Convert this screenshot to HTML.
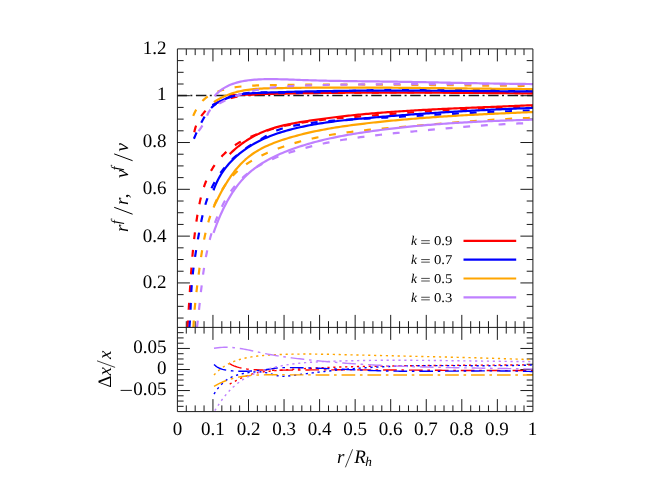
<!DOCTYPE html>
<html><head><meta charset="utf-8"><title>plot</title>
<style>html,body{margin:0;padding:0;background:#fff}body{width:651px;height:487px;overflow:hidden;font-family:"Liberation Serif",serif}svg{display:block}</style>
</head><body>
<svg width="651" height="487" viewBox="0 0 651 487">
<rect width="651" height="487" fill="#fff"/>
<defs><clipPath id="ct"><rect x="177.4" y="48.9" width="355.5" height="278.5"/></clipPath><clipPath id="cb"><rect x="177.4" y="327.4" width="355.5" height="84.20000000000005"/></clipPath></defs>
<path d="M186.29,48.9 v6.2 M186.29,321.2 v12.4 M186.29,411.6 v-6.2 M195.18,48.9 v6.2 M195.18,321.2 v12.4 M195.18,411.6 v-6.2 M204.06,48.9 v6.2 M204.06,321.2 v12.4 M204.06,411.6 v-6.2 M212.95,48.9 v12.5 M212.95,314.9 v25.0 M212.95,411.6 v-12.5 M221.84,48.9 v6.2 M221.84,321.2 v12.4 M221.84,411.6 v-6.2 M230.73,48.9 v6.2 M230.73,321.2 v12.4 M230.73,411.6 v-6.2 M239.61,48.9 v6.2 M239.61,321.2 v12.4 M239.61,411.6 v-6.2 M248.50,48.9 v12.5 M248.50,314.9 v25.0 M248.50,411.6 v-12.5 M257.39,48.9 v6.2 M257.39,321.2 v12.4 M257.39,411.6 v-6.2 M266.27,48.9 v6.2 M266.27,321.2 v12.4 M266.27,411.6 v-6.2 M275.16,48.9 v6.2 M275.16,321.2 v12.4 M275.16,411.6 v-6.2 M284.05,48.9 v12.5 M284.05,314.9 v25.0 M284.05,411.6 v-12.5 M292.94,48.9 v6.2 M292.94,321.2 v12.4 M292.94,411.6 v-6.2 M301.83,48.9 v6.2 M301.83,321.2 v12.4 M301.83,411.6 v-6.2 M310.71,48.9 v6.2 M310.71,321.2 v12.4 M310.71,411.6 v-6.2 M319.60,48.9 v12.5 M319.60,314.9 v25.0 M319.60,411.6 v-12.5 M328.49,48.9 v6.2 M328.49,321.2 v12.4 M328.49,411.6 v-6.2 M337.38,48.9 v6.2 M337.38,321.2 v12.4 M337.38,411.6 v-6.2 M346.26,48.9 v6.2 M346.26,321.2 v12.4 M346.26,411.6 v-6.2 M355.15,48.9 v12.5 M355.15,314.9 v25.0 M355.15,411.6 v-12.5 M364.04,48.9 v6.2 M364.04,321.2 v12.4 M364.04,411.6 v-6.2 M372.93,48.9 v6.2 M372.93,321.2 v12.4 M372.93,411.6 v-6.2 M381.81,48.9 v6.2 M381.81,321.2 v12.4 M381.81,411.6 v-6.2 M390.70,48.9 v12.5 M390.70,314.9 v25.0 M390.70,411.6 v-12.5 M399.59,48.9 v6.2 M399.59,321.2 v12.4 M399.59,411.6 v-6.2 M408.48,48.9 v6.2 M408.48,321.2 v12.4 M408.48,411.6 v-6.2 M417.36,48.9 v6.2 M417.36,321.2 v12.4 M417.36,411.6 v-6.2 M426.25,48.9 v12.5 M426.25,314.9 v25.0 M426.25,411.6 v-12.5 M435.14,48.9 v6.2 M435.14,321.2 v12.4 M435.14,411.6 v-6.2 M444.02,48.9 v6.2 M444.02,321.2 v12.4 M444.02,411.6 v-6.2 M452.91,48.9 v6.2 M452.91,321.2 v12.4 M452.91,411.6 v-6.2 M461.80,48.9 v12.5 M461.80,314.9 v25.0 M461.80,411.6 v-12.5 M470.69,48.9 v6.2 M470.69,321.2 v12.4 M470.69,411.6 v-6.2 M479.58,48.9 v6.2 M479.58,321.2 v12.4 M479.58,411.6 v-6.2 M488.46,48.9 v6.2 M488.46,321.2 v12.4 M488.46,411.6 v-6.2 M497.35,48.9 v12.5 M497.35,314.9 v25.0 M497.35,411.6 v-12.5 M506.24,48.9 v6.2 M506.24,321.2 v12.4 M506.24,411.6 v-6.2 M515.12,48.9 v6.2 M515.12,321.2 v12.4 M515.12,411.6 v-6.2 M524.01,48.9 v6.2 M524.01,321.2 v12.4 M524.01,411.6 v-6.2 M177.4,318.04 h6.2 M532.9,318.04 h-6.2 M177.4,306.34 h6.2 M532.9,306.34 h-6.2 M177.4,294.64 h6.2 M532.9,294.64 h-6.2 M177.4,282.93 h12.5 M532.9,282.93 h-12.5 M177.4,271.23 h6.2 M532.9,271.23 h-6.2 M177.4,259.53 h6.2 M532.9,259.53 h-6.2 M177.4,247.83 h6.2 M532.9,247.83 h-6.2 M177.4,236.13 h12.5 M532.9,236.13 h-12.5 M177.4,224.43 h6.2 M532.9,224.43 h-6.2 M177.4,212.73 h6.2 M532.9,212.73 h-6.2 M177.4,201.02 h6.2 M532.9,201.02 h-6.2 M177.4,189.32 h12.5 M532.9,189.32 h-12.5 M177.4,177.62 h6.2 M532.9,177.62 h-6.2 M177.4,165.92 h6.2 M532.9,165.92 h-6.2 M177.4,154.22 h6.2 M532.9,154.22 h-6.2 M177.4,142.52 h12.5 M532.9,142.52 h-12.5 M177.4,130.81 h6.2 M532.9,130.81 h-6.2 M177.4,119.11 h6.2 M532.9,119.11 h-6.2 M177.4,107.41 h6.2 M532.9,107.41 h-6.2 M177.4,95.71 h12.5 M532.9,95.71 h-12.5 M177.4,84.01 h6.2 M532.9,84.01 h-6.2 M177.4,72.31 h6.2 M532.9,72.31 h-6.2 M177.4,60.61 h6.2 M532.9,60.61 h-6.2 M177.4,406.34 h6.2 M532.9,406.34 h-6.2 M177.4,401.07 h6.2 M532.9,401.07 h-6.2 M177.4,395.81 h6.2 M532.9,395.81 h-6.2 M177.4,390.55 h12.5 M532.9,390.55 h-12.5 M177.4,385.29 h6.2 M532.9,385.29 h-6.2 M177.4,380.02 h6.2 M532.9,380.02 h-6.2 M177.4,374.76 h6.2 M532.9,374.76 h-6.2 M177.4,369.50 h12.5 M532.9,369.50 h-12.5 M177.4,364.24 h6.2 M532.9,364.24 h-6.2 M177.4,358.98 h6.2 M532.9,358.98 h-6.2 M177.4,353.71 h6.2 M532.9,353.71 h-6.2 M177.4,348.45 h12.5 M532.9,348.45 h-12.5 M177.4,343.19 h6.2 M532.9,343.19 h-6.2 M177.4,337.93 h6.2 M532.9,337.93 h-6.2 M177.4,332.66 h6.2 M532.9,332.66 h-6.2" fill="none" stroke="#1a1a1a" stroke-width="1"/>
<g clip-path="url(#ct)" fill="none" stroke-linejoin="round">
<path d="M177.4,95.5 H532.9" stroke="#1a1a1a" stroke-width="1.4" stroke-dasharray="10.5 3.4 2 3.58" stroke-dashoffset="0.98"/>
<path d="M229.70,95.16 L231.61,95.15 L233.52,95.13 L235.42,95.09 L237.33,95.04 L239.24,94.98 L241.14,94.91 L243.05,94.84 L244.95,94.76 L246.86,94.68 L248.77,94.60 L250.67,94.53 L252.58,94.46 L254.49,94.38 L256.39,94.32 L258.30,94.25 L260.21,94.19 L262.11,94.12 L264.02,94.06 L265.92,94.01 L267.83,93.95 L269.74,93.90 L271.65,93.85 L273.55,93.80 L275.46,93.75 L277.37,93.70 L279.27,93.66 L281.18,93.61 L283.09,93.57 L284.99,93.53 L286.90,93.49 L288.81,93.46 L290.72,93.42 L292.62,93.39 L294.53,93.35 L296.44,93.32 L298.34,93.29 L300.25,93.26 L302.16,93.23 L304.07,93.20 L305.97,93.18 L307.88,93.15 L309.79,93.12 L311.70,93.10 L313.60,93.07 L315.51,93.05 L317.42,93.03 L319.33,93.01 L321.23,92.99 L323.14,92.96 L325.05,92.94 L326.96,92.93 L328.86,92.91 L330.77,92.89 L332.68,92.87 L334.59,92.85 L336.49,92.84 L338.40,92.82 L340.31,92.81 L342.22,92.79 L344.13,92.78 L346.03,92.77 L347.94,92.75 L349.85,92.74 L351.76,92.73 L353.66,92.72 L355.57,92.71 L357.48,92.70 L359.39,92.69 L361.30,92.68 L363.20,92.67 L365.11,92.66 L367.02,92.66 L368.93,92.65 L370.83,92.64 L372.74,92.64 L374.65,92.63 L376.56,92.63 L378.47,92.62 L380.37,92.62 L382.28,92.62 L384.19,92.62 L386.10,92.61 L388.01,92.61 L389.91,92.61 L391.82,92.61 L393.73,92.61 L395.64,92.61 L397.55,92.61 L399.45,92.61 L401.36,92.61 L403.27,92.61 L405.18,92.62 L407.08,92.62 L408.99,92.62 L410.90,92.63 L412.81,92.63 L414.72,92.63 L416.62,92.64 L418.53,92.64 L420.44,92.65 L422.35,92.66 L424.26,92.66 L426.16,92.67 L428.07,92.68 L429.98,92.68 L431.89,92.69 L433.80,92.70 L435.70,92.71 L437.61,92.72 L439.52,92.72 L441.43,92.73 L443.34,92.74 L445.24,92.75 L447.15,92.76 L449.06,92.77 L450.97,92.78 L452.88,92.80 L454.78,92.81 L456.69,92.82 L458.60,92.83 L460.51,92.84 L462.42,92.86 L464.32,92.87 L466.23,92.88 L468.14,92.89 L470.05,92.91 L471.95,92.92 L473.86,92.94 L475.77,92.95 L477.68,92.96 L479.59,92.98 L481.49,92.99 L483.40,93.01 L485.31,93.02 L487.22,93.04 L489.13,93.05 L491.03,93.07 L492.94,93.09 L494.85,93.10 L496.76,93.12 L498.66,93.13 L500.57,93.15 L502.48,93.17 L504.39,93.18 L506.29,93.20 L508.20,93.22 L510.11,93.23 L512.02,93.25 L513.92,93.27 L515.83,93.29 L517.74,93.30 L519.65,93.32 L521.56,93.34 L523.46,93.36 L525.37,93.37 L527.28,93.39 L529.19,93.41 L531.09,93.43 L533.00,93.45" stroke="#ff0000" stroke-width="2.2"/>
<path d="M229.70,154.14 L231.10,152.75 L232.53,151.40 L233.98,150.07 L235.46,148.78 L236.96,147.51 L238.49,146.27 L240.05,145.07 L241.62,143.89 L243.22,142.75 L244.85,141.64 L246.49,140.55 L248.15,139.50 L249.83,138.49 L251.53,137.50 L253.25,136.55 L254.98,135.63 L256.73,134.74 L258.49,133.88 L260.27,133.06 L262.07,132.27 L263.87,131.51 L265.69,130.79 L267.52,130.10 L269.36,129.44 L271.21,128.82 L273.07,128.22 L274.94,127.65 L276.81,127.11 L278.70,126.60 L280.59,126.11 L282.49,125.64 L284.40,125.19 L286.31,124.76 L288.23,124.35 L290.15,123.96 L292.08,123.58 L294.01,123.22 L295.95,122.87 L297.89,122.53 L299.83,122.20 L301.77,121.88 L303.72,121.57 L305.66,121.27 L307.61,120.97 L309.55,120.67 L311.50,120.38 L313.45,120.10 L315.40,119.81 L317.34,119.54 L319.29,119.27 L321.24,119.00 L323.19,118.73 L325.14,118.48 L327.09,118.22 L329.04,117.97 L330.99,117.72 L332.94,117.48 L334.89,117.24 L336.85,117.01 L338.80,116.78 L340.75,116.55 L342.70,116.33 L344.66,116.11 L346.61,115.90 L348.57,115.69 L350.52,115.48 L352.48,115.28 L354.43,115.08 L356.39,114.88 L358.34,114.69 L360.30,114.50 L362.25,114.32 L364.21,114.13 L366.17,113.95 L368.13,113.78 L370.08,113.61 L372.04,113.44 L374.00,113.27 L375.96,113.11 L377.92,112.95 L379.88,112.79 L381.83,112.63 L383.79,112.48 L385.75,112.33 L387.71,112.18 L389.67,112.04 L391.63,111.90 L393.59,111.76 L395.56,111.62 L397.52,111.49 L399.48,111.36 L401.44,111.23 L403.40,111.10 L405.36,110.98 L407.32,110.86 L409.29,110.74 L411.25,110.62 L413.21,110.50 L415.17,110.39 L417.14,110.27 L419.10,110.16 L421.06,110.05 L423.03,109.95 L424.99,109.84 L426.95,109.74 L428.92,109.64 L430.88,109.54 L432.84,109.44 L434.81,109.34 L436.77,109.24 L438.73,109.15 L440.70,109.05 L442.66,108.96 L444.63,108.87 L446.59,108.78 L448.56,108.69 L450.52,108.60 L452.48,108.52 L454.45,108.43 L456.41,108.35 L458.38,108.26 L460.34,108.18 L462.31,108.10 L464.27,108.01 L466.24,107.93 L468.20,107.85 L470.17,107.77 L472.13,107.69 L474.09,107.61 L476.06,107.53 L478.02,107.45 L479.99,107.37 L481.95,107.29 L483.92,107.22 L485.88,107.14 L487.85,107.06 L489.81,106.98 L491.77,106.90 L493.74,106.82 L495.70,106.74 L497.67,106.67 L499.63,106.59 L501.59,106.51 L503.56,106.43 L505.52,106.35 L507.49,106.27 L509.45,106.18 L511.41,106.10 L513.38,106.02 L515.34,105.93 L517.30,105.85 L519.26,105.77 L521.23,105.68 L523.19,105.59 L525.15,105.50 L527.11,105.42 L529.08,105.33 L531.04,105.24 L533.00,105.14" stroke="#ff0000" stroke-width="2.2"/>
<path d="M194.30,132.25 L194.75,130.05 L195.33,127.89 L196.05,125.76 L196.89,123.68 L197.84,121.65 L198.91,119.68 L200.09,117.75 L201.35,115.89 L202.71,114.10 L204.16,112.37 L205.68,110.72 L207.27,109.15 L208.95,107.68 L210.70,106.32 L212.54,105.09 L214.47,104.00 L216.46,103.01 L218.50,102.10 L220.57,101.25 L222.68,100.48 L224.82,99.76 L226.98,99.10 L229.15,98.49 L231.32,97.94 L233.50,97.43 L235.69,96.97 L237.88,96.55 L240.07,96.17 L242.27,95.82 L244.48,95.50 L246.69,95.21 L248.90,94.95 L251.12,94.71 L253.34,94.50 L255.57,94.32 L257.79,94.15 L260.03,94.00 L262.26,93.87 L264.50,93.76 L266.73,93.66 L268.97,93.57 L271.21,93.49 L273.45,93.43 L275.70,93.37 L277.94,93.31 L280.18,93.27 L282.42,93.22 L284.66,93.18 L286.90,93.13 L289.14,93.10 L291.38,93.06 L293.62,93.03 L295.86,92.99 L298.10,92.96 L300.34,92.94 L302.58,92.91 L304.82,92.89 L307.05,92.86 L309.29,92.84 L311.53,92.82 L313.76,92.81 L316.00,92.79 L318.24,92.78 L320.47,92.76 L322.71,92.75 L324.95,92.74 L327.18,92.73 L329.42,92.72 L331.65,92.71 L333.89,92.70 L336.13,92.69 L338.36,92.68 L340.60,92.67 L342.83,92.67 L345.07,92.66 L347.30,92.65 L349.54,92.65 L351.78,92.64 L354.01,92.63 L356.25,92.63 L358.48,92.62 L360.72,92.61 L362.96,92.60 L365.19,92.60 L367.43,92.59 L369.67,92.58 L371.90,92.57 L374.14,92.57 L376.38,92.56 L378.62,92.55 L380.85,92.55 L383.09,92.54 L385.33,92.53 L387.56,92.53 L389.80,92.52 L392.04,92.51 L394.28,92.51 L396.51,92.50 L398.75,92.50 L400.99,92.49 L403.23,92.49 L405.46,92.48 L407.70,92.48 L409.94,92.47 L412.18,92.47 L414.41,92.46 L416.65,92.46 L418.89,92.46 L421.13,92.45 L423.37,92.45 L425.60,92.45 L427.84,92.45 L430.08,92.45 L432.32,92.44 L434.56,92.44 L436.79,92.44 L439.03,92.44 L441.27,92.44 L443.51,92.45 L445.74,92.45 L447.98,92.45 L450.22,92.45 L452.46,92.46 L454.70,92.46 L456.93,92.46 L459.17,92.47 L461.41,92.47 L463.65,92.48 L465.89,92.49 L468.12,92.49 L470.36,92.50 L472.60,92.51 L474.84,92.52 L477.07,92.53 L479.31,92.54 L481.55,92.55 L483.79,92.57 L486.03,92.58 L488.26,92.59 L490.50,92.61 L492.74,92.62 L494.98,92.64 L497.21,92.66 L499.45,92.67 L501.69,92.69 L503.92,92.71 L506.16,92.73 L508.40,92.75 L510.63,92.78 L512.87,92.80 L515.11,92.82 L517.35,92.85 L519.58,92.87 L521.82,92.90 L524.05,92.93 L526.29,92.96 L528.53,92.99 L530.76,93.02 L533.00,93.05" stroke="#ff0000" stroke-width="2.2" stroke-dasharray="6.9 10.8"/>
<path d="M187.50,327.41 L187.72,324.24 L187.94,321.08 L188.16,317.93 L188.37,314.78 L188.57,311.64 L188.77,308.51 L188.97,305.38 L189.16,302.26 L189.36,299.14 L189.55,296.03 L189.75,292.92 L189.95,289.81 L190.15,286.71 L190.35,283.61 L190.56,280.51 L190.77,277.41 L190.99,274.32 L191.21,271.22 L191.44,268.13 L191.68,265.03 L191.93,261.94 L192.19,258.85 L192.46,255.75 L192.75,252.65 L193.04,249.55 L193.35,246.45 L193.67,243.34 L194.01,240.24 L194.37,237.12 L194.74,234.01 L195.13,230.88 L195.54,227.76 L195.97,224.63 L196.42,221.49 L196.89,218.34 L197.38,215.20 L197.90,212.05 L198.46,208.90 L199.06,205.77 L199.71,202.64 L200.40,199.54 L201.16,196.45 L201.97,193.39 L202.85,190.36 L203.80,187.37 L204.83,184.41 L205.94,181.49 L207.13,178.63 L208.43,175.81 L209.81,173.05 L211.31,170.34 L212.91,167.71 L214.61,165.13 L216.43,162.63 L218.35,160.21 L220.37,157.86 L222.48,155.59 L224.69,153.41 L226.98,151.32 L229.36,149.31 L231.82,147.41 L234.37,145.60 L236.98,143.89 L239.67,142.28 L242.41,140.76 L245.21,139.33 L248.04,137.98 L250.90,136.70 L253.79,135.47 L256.69,134.31 L259.60,133.20 L262.54,132.14 L265.49,131.14 L268.45,130.19 L271.43,129.29 L274.42,128.43 L277.42,127.62 L280.44,126.85 L283.47,126.13 L286.51,125.44 L289.56,124.80 L292.62,124.19 L295.69,123.61 L298.76,123.07 L301.85,122.56 L304.94,122.07 L308.04,121.62 L311.15,121.19 L314.26,120.78 L317.38,120.40 L320.51,120.04 L323.63,119.69 L326.76,119.36 L329.90,119.05 L333.03,118.75 L336.17,118.46 L339.30,118.18 L342.44,117.91 L345.58,117.65 L348.72,117.38 L351.85,117.12 L354.99,116.87 L358.12,116.61 L361.25,116.35 L364.38,116.10 L367.50,115.84 L370.63,115.59 L373.75,115.34 L376.87,115.09 L379.99,114.84 L383.11,114.59 L386.23,114.35 L389.35,114.11 L392.46,113.87 L395.58,113.63 L398.69,113.39 L401.81,113.16 L404.92,112.93 L408.03,112.70 L411.15,112.47 L414.26,112.25 L417.37,112.03 L420.48,111.82 L423.59,111.60 L426.70,111.40 L429.81,111.19 L432.92,110.99 L436.03,110.79 L439.15,110.60 L442.26,110.41 L445.37,110.22 L448.48,110.04 L451.59,109.86 L454.71,109.69 L457.82,109.53 L460.94,109.36 L464.05,109.21 L467.17,109.05 L470.29,108.91 L473.41,108.77 L476.53,108.63 L479.65,108.50 L482.77,108.37 L485.90,108.25 L489.02,108.14 L492.15,108.03 L495.28,107.93 L498.41,107.84 L501.55,107.75 L504.68,107.67 L507.82,107.59 L510.96,107.53 L514.10,107.47 L517.25,107.41 L520.39,107.37 L523.54,107.33 L526.69,107.29 L529.85,107.27 L533.00,107.25" stroke="#ff0000" stroke-width="2.2" stroke-dasharray="6.9 10.8"/>
<path d="M212.30,105.16 L214.09,104.23 L215.90,103.31 L217.72,102.40 L219.56,101.52 L221.42,100.66 L223.29,99.84 L225.17,99.04 L227.07,98.29 L228.99,97.58 L230.91,96.92 L232.85,96.31 L234.80,95.76 L236.77,95.28 L238.74,94.86 L240.72,94.49 L242.72,94.18 L244.72,93.91 L246.73,93.69 L248.74,93.50 L250.76,93.34 L252.78,93.21 L254.81,93.10 L256.84,93.00 L258.87,92.92 L260.90,92.83 L262.93,92.75 L264.97,92.68 L267.00,92.60 L269.03,92.52 L271.06,92.45 L273.09,92.38 L275.12,92.31 L277.15,92.24 L279.18,92.18 L281.22,92.11 L283.25,92.05 L285.28,91.99 L287.31,91.93 L289.34,91.87 L291.37,91.81 L293.40,91.76 L295.43,91.70 L297.46,91.65 L299.49,91.60 L301.53,91.55 L303.56,91.50 L305.59,91.46 L307.62,91.41 L309.65,91.37 L311.68,91.33 L313.71,91.29 L315.74,91.25 L317.77,91.21 L319.80,91.17 L321.83,91.14 L323.86,91.10 L325.89,91.07 L327.92,91.04 L329.96,91.01 L331.99,90.98 L334.02,90.95 L336.05,90.92 L338.08,90.90 L340.11,90.88 L342.14,90.85 L344.17,90.83 L346.20,90.81 L348.23,90.79 L350.26,90.77 L352.29,90.75 L354.32,90.74 L356.35,90.72 L358.38,90.71 L360.41,90.69 L362.44,90.68 L364.47,90.67 L366.50,90.66 L368.53,90.65 L370.56,90.64 L372.59,90.63 L374.62,90.63 L376.65,90.62 L378.69,90.62 L380.72,90.61 L382.75,90.61 L384.78,90.61 L386.81,90.60 L388.84,90.60 L390.87,90.60 L392.90,90.60 L394.93,90.60 L396.96,90.60 L398.99,90.61 L401.02,90.61 L403.05,90.61 L405.08,90.62 L407.11,90.62 L409.14,90.63 L411.17,90.64 L413.20,90.64 L415.23,90.65 L417.26,90.66 L419.29,90.67 L421.32,90.67 L423.35,90.68 L425.38,90.69 L427.41,90.70 L429.44,90.71 L431.47,90.73 L433.50,90.74 L435.53,90.75 L437.56,90.76 L439.59,90.77 L441.62,90.79 L443.65,90.80 L445.68,90.81 L447.71,90.83 L449.74,90.84 L451.77,90.86 L453.80,90.87 L455.84,90.88 L457.87,90.90 L459.90,90.92 L461.93,90.93 L463.96,90.95 L465.99,90.96 L468.02,90.98 L470.05,90.99 L472.08,91.01 L474.11,91.03 L476.14,91.04 L478.17,91.06 L480.20,91.07 L482.23,91.09 L484.26,91.11 L486.29,91.12 L488.32,91.14 L490.35,91.15 L492.38,91.17 L494.41,91.19 L496.44,91.20 L498.48,91.22 L500.51,91.23 L502.54,91.25 L504.57,91.26 L506.60,91.28 L508.63,91.29 L510.66,91.31 L512.69,91.32 L514.72,91.33 L516.75,91.35 L518.78,91.36 L520.81,91.37 L522.85,91.39 L524.88,91.40 L526.91,91.41 L528.94,91.42 L530.97,91.43 L533.00,91.44" stroke="#0000ff" stroke-width="2.2"/>
<path d="M213.51,190.37 L214.28,188.21 L215.10,186.10 L215.98,184.02 L216.92,181.99 L217.90,179.99 L218.94,178.04 L220.02,176.12 L221.16,174.25 L222.34,172.42 L223.57,170.62 L224.84,168.87 L226.15,167.15 L227.51,165.47 L228.91,163.83 L230.35,162.23 L231.83,160.67 L233.34,159.15 L234.89,157.66 L236.48,156.21 L238.10,154.80 L239.75,153.43 L241.44,152.09 L243.15,150.79 L244.89,149.53 L246.66,148.30 L248.46,147.11 L250.28,145.96 L252.13,144.84 L254.00,143.76 L255.89,142.71 L257.81,141.70 L259.74,140.72 L261.69,139.78 L263.66,138.87 L265.64,137.99 L267.64,137.14 L269.66,136.32 L271.69,135.53 L273.73,134.77 L275.78,134.04 L277.85,133.33 L279.92,132.65 L282.01,131.99 L284.10,131.36 L286.20,130.74 L288.31,130.15 L290.42,129.59 L292.54,129.04 L294.66,128.51 L296.79,127.99 L298.91,127.50 L301.04,127.02 L303.18,126.56 L305.31,126.11 L307.45,125.68 L309.59,125.27 L311.73,124.87 L313.87,124.48 L316.02,124.11 L318.17,123.75 L320.32,123.40 L322.47,123.07 L324.62,122.74 L326.78,122.43 L328.93,122.13 L331.09,121.84 L333.25,121.56 L335.41,121.28 L337.57,121.02 L339.73,120.77 L341.89,120.52 L344.06,120.28 L346.22,120.04 L348.39,119.82 L350.56,119.60 L352.72,119.38 L354.89,119.17 L357.06,118.97 L359.23,118.76 L361.40,118.56 L363.57,118.37 L365.73,118.18 L367.90,117.99 L370.07,117.80 L372.24,117.61 L374.41,117.42 L376.58,117.24 L378.75,117.06 L380.92,116.88 L383.09,116.70 L385.26,116.52 L387.43,116.34 L389.60,116.17 L391.77,116.00 L393.93,115.83 L396.10,115.66 L398.27,115.49 L400.44,115.33 L402.61,115.16 L404.78,115.00 L406.95,114.84 L409.12,114.68 L411.29,114.52 L413.46,114.37 L415.63,114.21 L417.80,114.06 L419.97,113.91 L422.14,113.76 L424.31,113.61 L426.48,113.46 L428.65,113.32 L430.82,113.17 L432.99,113.03 L435.16,112.89 L437.33,112.75 L439.50,112.61 L441.67,112.47 L443.84,112.34 L446.02,112.21 L448.19,112.07 L450.36,111.94 L452.53,111.81 L454.70,111.68 L456.87,111.56 L459.05,111.43 L461.22,111.31 L463.39,111.18 L465.56,111.06 L467.73,110.94 L469.91,110.82 L472.08,110.71 L474.25,110.59 L476.43,110.47 L478.60,110.36 L480.77,110.25 L482.95,110.14 L485.12,110.03 L487.29,109.92 L489.47,109.81 L491.64,109.70 L493.82,109.60 L495.99,109.49 L498.17,109.39 L500.34,109.29 L502.52,109.19 L504.69,109.09 L506.87,108.99 L509.05,108.90 L511.22,108.80 L513.40,108.70 L515.58,108.61 L517.75,108.52 L519.93,108.43 L522.11,108.34 L524.29,108.25 L526.46,108.16 L528.64,108.07 L530.82,107.98 L533.00,107.90" stroke="#0000ff" stroke-width="2.2"/>
<path d="M193.90,138.77 L194.78,136.70 L195.68,134.62 L196.59,132.55 L197.52,130.47 L198.48,128.40 L199.45,126.34 L200.46,124.29 L201.50,122.25 L202.58,120.23 L203.69,118.24 L204.84,116.28 L206.05,114.35 L207.33,112.49 L208.69,110.70 L210.15,109.00 L211.72,107.40 L213.40,105.92 L215.17,104.53 L217.02,103.22 L218.94,102.00 L220.92,100.87 L222.96,99.81 L225.04,98.84 L227.15,97.94 L229.30,97.12 L231.46,96.38 L233.63,95.71 L235.82,95.11 L238.02,94.59 L240.23,94.12 L242.45,93.72 L244.68,93.39 L246.92,93.10 L249.16,92.87 L251.41,92.69 L253.66,92.55 L255.92,92.45 L258.18,92.39 L260.45,92.35 L262.72,92.34 L265.00,92.36 L267.27,92.39 L269.55,92.43 L271.83,92.48 L274.11,92.54 L276.39,92.59 L278.67,92.64 L280.95,92.69 L283.23,92.72 L285.51,92.74 L287.78,92.75 L290.06,92.75 L292.34,92.74 L294.61,92.73 L296.88,92.70 L299.16,92.67 L301.43,92.63 L303.70,92.58 L305.97,92.52 L308.24,92.46 L310.51,92.40 L312.78,92.33 L315.05,92.25 L317.32,92.17 L319.59,92.09 L321.86,92.01 L324.12,91.92 L326.39,91.83 L328.66,91.73 L330.93,91.64 L333.19,91.54 L335.46,91.45 L337.73,91.35 L339.99,91.26 L342.26,91.16 L344.53,91.07 L346.80,90.98 L349.06,90.89 L351.33,90.81 L353.60,90.72 L355.87,90.64 L358.13,90.57 L360.40,90.49 L362.67,90.42 L364.94,90.36 L367.21,90.29 L369.48,90.23 L371.75,90.17 L374.02,90.11 L376.29,90.06 L378.56,90.01 L380.83,89.96 L383.10,89.91 L385.37,89.86 L387.64,89.82 L389.91,89.78 L392.18,89.74 L394.45,89.71 L396.72,89.68 L398.99,89.65 L401.26,89.62 L403.53,89.59 L405.81,89.57 L408.08,89.54 L410.35,89.52 L412.62,89.50 L414.89,89.49 L417.16,89.47 L419.44,89.46 L421.71,89.45 L423.98,89.44 L426.25,89.43 L428.52,89.42 L430.80,89.42 L433.07,89.42 L435.34,89.41 L437.61,89.41 L439.88,89.41 L442.16,89.42 L444.43,89.42 L446.70,89.43 L448.97,89.43 L451.25,89.44 L453.52,89.45 L455.79,89.46 L458.06,89.47 L460.33,89.48 L462.61,89.49 L464.88,89.51 L467.15,89.52 L469.42,89.54 L471.69,89.55 L473.97,89.57 L476.24,89.59 L478.51,89.61 L480.78,89.63 L483.05,89.65 L485.32,89.67 L487.60,89.69 L489.87,89.71 L492.14,89.73 L494.41,89.75 L496.68,89.78 L498.95,89.80 L501.22,89.82 L503.49,89.84 L505.76,89.87 L508.03,89.89 L510.31,89.92 L512.58,89.94 L514.85,89.96 L517.12,89.99 L519.39,90.01 L521.65,90.03 L523.92,90.06 L526.19,90.08 L528.46,90.10 L530.73,90.13 L533.00,90.15" stroke="#0000ff" stroke-width="2.2" stroke-dasharray="6.9 10.8"/>
<path d="M189.40,327.40 L189.68,324.39 L189.92,321.36 L190.13,318.31 L190.30,315.25 L190.45,312.17 L190.58,309.08 L190.70,305.98 L190.82,302.88 L190.94,299.78 L191.07,296.68 L191.21,293.59 L191.38,290.50 L191.58,287.43 L191.81,284.36 L192.06,281.31 L192.35,278.27 L192.66,275.24 L193.00,272.21 L193.36,269.19 L193.75,266.17 L194.16,263.16 L194.58,260.15 L195.03,257.14 L195.49,254.13 L195.96,251.12 L196.45,248.10 L196.95,245.08 L197.46,242.06 L197.98,239.02 L198.51,235.98 L199.05,232.94 L199.60,229.89 L200.17,226.83 L200.76,223.78 L201.38,220.74 L202.03,217.70 L202.72,214.67 L203.45,211.66 L204.23,208.66 L205.05,205.69 L205.94,202.74 L206.89,199.82 L207.90,196.93 L208.99,194.07 L210.15,191.24 L211.40,188.46 L212.72,185.72 L214.14,183.03 L215.64,180.38 L217.23,177.78 L218.90,175.23 L220.64,172.73 L222.47,170.29 L224.37,167.90 L226.34,165.57 L228.39,163.30 L230.50,161.08 L232.69,158.93 L234.94,156.85 L237.25,154.83 L239.63,152.87 L242.06,150.99 L244.56,149.17 L247.11,147.43 L249.71,145.76 L252.35,144.14 L255.02,142.56 L257.71,141.00 L260.39,139.45 L263.07,137.89 L265.74,136.31 L268.40,134.77 L271.09,133.28 L273.80,131.87 L276.56,130.59 L279.38,129.47 L282.26,128.50 L285.19,127.66 L288.15,126.93 L291.14,126.28 L294.15,125.68 L297.16,125.13 L300.17,124.60 L303.20,124.11 L306.22,123.65 L309.26,123.22 L312.29,122.82 L315.34,122.45 L318.38,122.10 L321.43,121.78 L324.48,121.47 L327.54,121.19 L330.60,120.92 L333.66,120.67 L336.72,120.44 L339.79,120.22 L342.85,120.01 L345.92,119.82 L348.99,119.63 L352.06,119.45 L355.13,119.27 L358.20,119.10 L361.27,118.93 L364.35,118.76 L367.42,118.59 L370.49,118.42 L373.55,118.24 L376.62,118.07 L379.69,117.90 L382.76,117.72 L385.83,117.55 L388.89,117.37 L391.96,117.20 L395.02,117.02 L398.09,116.85 L401.16,116.67 L404.22,116.50 L407.29,116.32 L410.35,116.15 L413.41,115.97 L416.48,115.80 L419.54,115.62 L422.61,115.45 L425.67,115.28 L428.73,115.11 L431.80,114.94 L434.86,114.77 L437.92,114.60 L440.99,114.43 L444.05,114.27 L447.11,114.10 L450.18,113.94 L453.24,113.78 L456.30,113.62 L459.37,113.46 L462.43,113.30 L465.49,113.15 L468.56,112.99 L471.62,112.84 L474.69,112.70 L477.75,112.55 L480.82,112.41 L483.88,112.26 L486.95,112.13 L490.02,111.99 L493.08,111.86 L496.15,111.72 L499.22,111.60 L502.29,111.47 L505.36,111.35 L508.42,111.23 L511.49,111.11 L514.56,111.00 L517.64,110.89 L520.71,110.79 L523.78,110.69 L526.85,110.59 L529.93,110.49 L533.00,110.40" stroke="#0000ff" stroke-width="2.2" stroke-dasharray="6.9 10.8"/>
<path d="M213.90,102.10 L215.61,100.99 L217.34,99.93 L219.10,98.93 L220.89,97.98 L222.71,97.08 L224.55,96.23 L226.41,95.43 L228.29,94.68 L230.19,93.99 L232.11,93.34 L234.04,92.75 L235.99,92.19 L237.94,91.69 L239.91,91.23 L241.88,90.81 L243.86,90.44 L245.85,90.10 L247.84,89.80 L249.84,89.54 L251.84,89.31 L253.84,89.10 L255.85,88.93 L257.87,88.78 L259.88,88.65 L261.90,88.54 L263.92,88.45 L265.94,88.38 L267.97,88.31 L269.99,88.26 L272.02,88.21 L274.04,88.17 L276.07,88.14 L278.10,88.10 L280.12,88.06 L282.15,88.03 L284.17,88.00 L286.20,87.96 L288.22,87.93 L290.25,87.90 L292.28,87.88 L294.30,87.85 L296.33,87.82 L298.35,87.80 L300.38,87.78 L302.40,87.75 L304.43,87.73 L306.45,87.71 L308.48,87.70 L310.50,87.68 L312.52,87.66 L314.55,87.65 L316.57,87.63 L318.60,87.62 L320.62,87.61 L322.64,87.60 L324.67,87.59 L326.69,87.58 L328.72,87.57 L330.74,87.56 L332.76,87.56 L334.79,87.55 L336.81,87.55 L338.83,87.54 L340.86,87.54 L342.88,87.54 L344.90,87.54 L346.92,87.54 L348.95,87.54 L350.97,87.54 L352.99,87.54 L355.02,87.55 L357.04,87.55 L359.06,87.56 L361.08,87.56 L363.11,87.57 L365.13,87.57 L367.15,87.58 L369.17,87.59 L371.20,87.60 L373.22,87.61 L375.24,87.62 L377.26,87.63 L379.28,87.64 L381.31,87.65 L383.33,87.67 L385.35,87.68 L387.37,87.69 L389.40,87.71 L391.42,87.72 L393.44,87.74 L395.46,87.75 L397.48,87.77 L399.50,87.78 L401.53,87.80 L403.55,87.82 L405.57,87.83 L407.59,87.85 L409.61,87.87 L411.64,87.89 L413.66,87.91 L415.68,87.93 L417.70,87.95 L419.72,87.97 L421.74,87.99 L423.77,88.01 L425.79,88.03 L427.81,88.05 L429.83,88.07 L431.85,88.09 L433.88,88.11 L435.90,88.13 L437.92,88.16 L439.94,88.18 L441.96,88.20 L443.99,88.22 L446.01,88.24 L448.03,88.27 L450.05,88.29 L452.07,88.31 L454.10,88.33 L456.12,88.35 L458.14,88.38 L460.16,88.40 L462.18,88.42 L464.21,88.44 L466.23,88.47 L468.25,88.49 L470.27,88.51 L472.30,88.53 L474.32,88.55 L476.34,88.57 L478.36,88.59 L480.39,88.62 L482.41,88.64 L484.43,88.66 L486.45,88.68 L488.48,88.70 L490.50,88.72 L492.52,88.74 L494.55,88.76 L496.57,88.78 L498.59,88.79 L500.62,88.81 L502.64,88.83 L504.66,88.85 L506.69,88.87 L508.71,88.88 L510.73,88.90 L512.76,88.92 L514.78,88.93 L516.81,88.95 L518.83,88.96 L520.85,88.97 L522.88,88.99 L524.90,89.00 L526.93,89.01 L528.95,89.03 L530.98,89.04 L533.00,89.05" stroke="#ffa500" stroke-width="2.2"/>
<path d="M213.52,207.56 L214.43,205.60 L215.36,203.64 L216.31,201.67 L217.28,199.69 L218.27,197.71 L219.28,195.73 L220.31,193.75 L221.37,191.77 L222.45,189.81 L223.56,187.85 L224.69,185.90 L225.84,183.97 L227.03,182.05 L228.24,180.15 L229.48,178.28 L230.75,176.42 L232.05,174.60 L233.38,172.80 L234.75,171.03 L236.14,169.29 L237.58,167.59 L239.04,165.93 L240.54,164.31 L242.08,162.72 L243.66,161.19 L245.27,159.70 L246.92,158.26 L248.61,156.87 L250.35,155.54 L252.12,154.25 L253.93,153.02 L255.77,151.84 L257.65,150.70 L259.56,149.61 L261.49,148.57 L263.46,147.56 L265.45,146.60 L267.46,145.67 L269.49,144.78 L271.55,143.92 L273.62,143.09 L275.71,142.30 L277.81,141.53 L279.92,140.79 L282.04,140.07 L284.17,139.38 L286.31,138.70 L288.45,138.05 L290.59,137.41 L292.74,136.79 L294.88,136.19 L297.04,135.60 L299.19,135.03 L301.34,134.47 L303.50,133.93 L305.66,133.41 L307.83,132.90 L309.99,132.40 L312.16,131.92 L314.33,131.45 L316.50,131.00 L318.68,130.55 L320.85,130.12 L323.03,129.71 L325.21,129.30 L327.39,128.90 L329.57,128.52 L331.76,128.14 L333.94,127.78 L336.13,127.43 L338.32,127.08 L340.51,126.75 L342.70,126.42 L344.90,126.10 L347.09,125.79 L349.29,125.48 L351.49,125.19 L353.68,124.90 L355.88,124.61 L358.08,124.34 L360.28,124.06 L362.48,123.80 L364.69,123.54 L366.89,123.28 L369.09,123.02 L371.30,122.77 L373.50,122.53 L375.71,122.29 L377.91,122.05 L380.12,121.82 L382.33,121.59 L384.54,121.36 L386.74,121.14 L388.95,120.92 L391.16,120.70 L393.37,120.49 L395.58,120.28 L397.79,120.08 L400.00,119.88 L402.21,119.68 L404.43,119.48 L406.64,119.29 L408.85,119.10 L411.06,118.92 L413.28,118.73 L415.49,118.56 L417.71,118.38 L419.92,118.20 L422.13,118.03 L424.35,117.87 L426.57,117.70 L428.78,117.54 L431.00,117.38 L433.21,117.22 L435.43,117.07 L437.65,116.92 L439.86,116.77 L442.08,116.62 L444.30,116.47 L446.51,116.33 L448.73,116.19 L450.95,116.05 L453.17,115.92 L455.39,115.78 L457.60,115.65 L459.82,115.52 L462.04,115.39 L464.26,115.27 L466.48,115.15 L468.70,115.02 L470.91,114.90 L473.13,114.78 L475.35,114.67 L477.57,114.55 L479.79,114.44 L482.01,114.33 L484.23,114.22 L486.44,114.11 L488.66,114.00 L490.88,113.89 L493.10,113.79 L495.32,113.68 L497.54,113.58 L499.75,113.48 L501.97,113.38 L504.19,113.28 L506.41,113.18 L508.62,113.08 L510.84,112.98 L513.06,112.89 L515.27,112.79 L517.49,112.69 L519.71,112.60 L521.92,112.51 L524.14,112.41 L526.35,112.32 L528.57,112.23 L530.78,112.14 L533.00,112.05" stroke="#ffa500" stroke-width="2.2"/>
<path d="M193.21,115.86 L194.13,113.80 L195.10,111.76 L196.14,109.76 L197.25,107.81 L198.44,105.93 L199.72,104.13 L201.10,102.42 L202.58,100.81 L204.17,99.33 L205.86,97.96 L207.63,96.69 L209.49,95.53 L211.41,94.45 L213.38,93.47 L215.40,92.57 L217.45,91.74 L219.52,90.98 L221.62,90.29 L223.73,89.66 L225.87,89.09 L228.01,88.58 L230.18,88.12 L232.36,87.71 L234.55,87.34 L236.74,87.02 L238.95,86.73 L241.16,86.48 L243.38,86.26 L245.60,86.08 L247.82,85.91 L250.04,85.77 L252.26,85.64 L254.47,85.53 L256.69,85.44 L258.90,85.35 L261.10,85.28 L263.31,85.22 L265.51,85.17 L267.71,85.12 L269.91,85.08 L272.12,85.04 L274.32,85.01 L276.52,84.98 L278.73,84.95 L280.93,84.92 L283.13,84.89 L285.34,84.86 L287.55,84.83 L289.75,84.81 L291.96,84.78 L294.17,84.76 L296.38,84.74 L298.59,84.72 L300.80,84.70 L303.01,84.68 L305.22,84.66 L307.43,84.64 L309.64,84.62 L311.85,84.61 L314.06,84.59 L316.28,84.58 L318.49,84.57 L320.70,84.56 L322.91,84.55 L325.13,84.54 L327.34,84.53 L329.55,84.52 L331.77,84.52 L333.98,84.51 L336.20,84.51 L338.41,84.50 L340.62,84.50 L342.84,84.50 L345.05,84.50 L347.26,84.50 L349.48,84.50 L351.69,84.50 L353.90,84.51 L356.12,84.51 L358.33,84.52 L360.54,84.52 L362.76,84.53 L364.97,84.54 L367.18,84.54 L369.39,84.55 L371.61,84.56 L373.82,84.57 L376.03,84.59 L378.24,84.60 L380.45,84.61 L382.66,84.62 L384.88,84.64 L387.09,84.65 L389.30,84.67 L391.51,84.68 L393.72,84.70 L395.93,84.72 L398.14,84.73 L400.35,84.75 L402.56,84.77 L404.77,84.79 L406.99,84.81 L409.20,84.83 L411.41,84.85 L413.62,84.87 L415.83,84.89 L418.04,84.91 L420.25,84.93 L422.46,84.95 L424.67,84.97 L426.88,84.99 L429.09,85.02 L431.30,85.04 L433.51,85.06 L435.72,85.08 L437.93,85.10 L440.14,85.13 L442.35,85.15 L444.56,85.17 L446.77,85.19 L448.98,85.22 L451.19,85.24 L453.40,85.26 L455.61,85.28 L457.82,85.31 L460.03,85.33 L462.24,85.35 L464.45,85.37 L466.66,85.39 L468.87,85.42 L471.08,85.44 L473.29,85.46 L475.50,85.48 L477.71,85.50 L479.92,85.52 L482.13,85.54 L484.35,85.56 L486.56,85.58 L488.77,85.60 L490.98,85.62 L493.19,85.63 L495.40,85.65 L497.61,85.67 L499.82,85.68 L502.03,85.70 L504.24,85.71 L506.46,85.73 L508.67,85.74 L510.88,85.76 L513.09,85.77 L515.30,85.78 L517.51,85.79 L519.73,85.80 L521.94,85.81 L524.15,85.82 L526.36,85.83 L528.57,85.84 L530.79,85.85 L533.00,85.85" stroke="#ffa500" stroke-width="2.2" stroke-dasharray="6.9 10.8"/>
<path d="M193.40,327.40 L193.55,324.43 L193.72,321.46 L193.91,318.50 L194.13,315.55 L194.36,312.60 L194.61,309.66 L194.88,306.72 L195.17,303.78 L195.46,300.85 L195.78,297.92 L196.10,295.00 L196.44,292.07 L196.79,289.15 L197.14,286.23 L197.51,283.30 L197.88,280.38 L198.26,277.46 L198.65,274.53 L199.04,271.60 L199.43,268.67 L199.83,265.74 L200.24,262.81 L200.66,259.87 L201.09,256.94 L201.54,254.01 L202.01,251.07 L202.50,248.15 L203.02,245.22 L203.56,242.30 L204.14,239.39 L204.74,236.48 L205.38,233.57 L206.06,230.67 L206.78,227.78 L207.55,224.90 L208.36,222.03 L209.21,219.17 L210.12,216.32 L211.08,213.49 L212.10,210.67 L213.17,207.88 L214.29,205.12 L215.48,202.39 L216.73,199.69 L218.04,197.03 L219.42,194.42 L220.86,191.85 L222.37,189.33 L223.95,186.87 L225.60,184.46 L227.32,182.12 L229.12,179.84 L230.99,177.63 L232.95,175.50 L234.98,173.44 L237.09,171.46 L239.28,169.56 L241.53,167.72 L243.85,165.96 L246.24,164.27 L248.68,162.64 L251.17,161.08 L253.72,159.58 L256.31,158.14 L258.94,156.75 L261.61,155.42 L264.31,154.14 L267.04,152.91 L269.80,151.73 L272.58,150.59 L275.37,149.50 L278.18,148.45 L281.00,147.43 L283.82,146.45 L286.65,145.51 L289.49,144.60 L292.33,143.73 L295.18,142.89 L298.03,142.08 L300.89,141.30 L303.76,140.55 L306.63,139.84 L309.50,139.15 L312.38,138.48 L315.27,137.85 L318.16,137.24 L321.05,136.65 L323.95,136.09 L326.85,135.55 L329.76,135.04 L332.67,134.54 L335.58,134.07 L338.50,133.62 L341.41,133.18 L344.34,132.76 L347.26,132.36 L350.19,131.98 L353.12,131.61 L356.06,131.25 L358.99,130.91 L361.93,130.58 L364.87,130.26 L367.81,129.95 L370.75,129.65 L373.70,129.36 L376.64,129.08 L379.59,128.81 L382.53,128.54 L385.48,128.27 L388.43,128.01 L391.38,127.76 L394.33,127.50 L397.28,127.25 L400.23,127.00 L403.18,126.75 L406.13,126.50 L409.07,126.25 L412.02,125.99 L414.97,125.74 L417.92,125.49 L420.87,125.24 L423.81,124.99 L426.76,124.75 L429.71,124.50 L432.65,124.25 L435.60,124.01 L438.55,123.77 L441.50,123.53 L444.44,123.29 L447.39,123.05 L450.34,122.82 L453.29,122.58 L456.23,122.35 L459.18,122.13 L462.13,121.90 L465.08,121.68 L468.03,121.46 L470.98,121.25 L473.92,121.04 L476.87,120.83 L479.82,120.62 L482.77,120.42 L485.72,120.23 L488.67,120.03 L491.63,119.85 L494.58,119.66 L497.53,119.48 L500.48,119.31 L503.44,119.14 L506.39,118.98 L509.34,118.82 L512.30,118.66 L515.25,118.52 L518.21,118.37 L521.17,118.24 L524.12,118.11 L527.08,117.98 L530.04,117.87 L533.00,117.76" stroke="#ffa500" stroke-width="2.2" stroke-dasharray="6.9 10.8"/>
<path d="M214.49,96.15 L215.93,94.56 L217.42,93.08 L218.96,91.70 L220.55,90.42 L222.19,89.23 L223.87,88.13 L225.59,87.12 L227.35,86.19 L229.15,85.33 L230.98,84.55 L232.84,83.85 L234.72,83.20 L236.63,82.63 L238.56,82.11 L240.51,81.64 L242.48,81.23 L244.47,80.87 L246.47,80.55 L248.48,80.28 L250.50,80.04 L252.53,79.84 L254.57,79.67 L256.61,79.54 L258.66,79.42 L260.70,79.33 L262.75,79.26 L264.79,79.20 L266.84,79.16 L268.88,79.14 L270.92,79.13 L272.96,79.14 L275.01,79.16 L277.05,79.19 L279.09,79.23 L281.13,79.28 L283.17,79.33 L285.21,79.40 L287.25,79.46 L289.28,79.54 L291.32,79.61 L293.36,79.69 L295.40,79.77 L297.43,79.85 L299.47,79.93 L301.50,80.00 L303.54,80.07 L305.57,80.14 L307.60,80.21 L309.64,80.27 L311.67,80.33 L313.70,80.39 L315.73,80.45 L317.76,80.50 L319.79,80.55 L321.82,80.60 L323.85,80.65 L325.88,80.69 L327.91,80.74 L329.94,80.78 L331.97,80.82 L334.00,80.86 L336.02,80.90 L338.05,80.93 L340.08,80.97 L342.11,81.00 L344.13,81.03 L346.16,81.06 L348.19,81.09 L350.22,81.12 L352.24,81.15 L354.27,81.18 L356.30,81.20 L358.32,81.23 L360.35,81.25 L362.38,81.28 L364.40,81.30 L366.43,81.33 L368.46,81.35 L370.48,81.38 L372.51,81.40 L374.54,81.43 L376.56,81.45 L378.59,81.47 L380.62,81.50 L382.65,81.53 L384.68,81.55 L386.70,81.58 L388.73,81.61 L390.76,81.63 L392.79,81.66 L394.82,81.69 L396.85,81.72 L398.88,81.76 L400.91,81.79 L402.94,81.82 L404.97,81.85 L407.00,81.89 L409.04,81.92 L411.07,81.96 L413.10,81.99 L415.13,82.03 L417.16,82.07 L419.20,82.11 L421.23,82.14 L423.26,82.18 L425.29,82.22 L427.33,82.26 L429.36,82.30 L431.39,82.34 L433.43,82.38 L435.46,82.42 L437.49,82.46 L439.53,82.50 L441.56,82.54 L443.60,82.58 L445.63,82.62 L447.66,82.66 L449.70,82.70 L451.73,82.74 L453.77,82.78 L455.80,82.82 L457.83,82.87 L459.87,82.91 L461.90,82.95 L463.94,82.99 L465.97,83.03 L468.00,83.07 L470.04,83.11 L472.07,83.15 L474.10,83.18 L476.14,83.22 L478.17,83.26 L480.20,83.30 L482.24,83.34 L484.27,83.37 L486.30,83.41 L488.34,83.45 L490.37,83.48 L492.40,83.52 L494.43,83.55 L496.47,83.58 L498.50,83.62 L500.53,83.65 L502.56,83.68 L504.59,83.71 L506.62,83.74 L508.65,83.77 L510.68,83.80 L512.71,83.83 L514.74,83.85 L516.77,83.88 L518.80,83.90 L520.83,83.93 L522.86,83.95 L524.89,83.97 L526.92,83.99 L528.95,84.01 L530.97,84.03 L533.00,84.05" stroke="#bf80ff" stroke-width="2.2"/>
<path d="M213.51,232.96 L214.26,230.83 L215.02,228.70 L215.81,226.56 L216.62,224.42 L217.45,222.29 L218.31,220.15 L219.19,218.03 L220.10,215.90 L221.03,213.79 L221.99,211.68 L222.98,209.59 L223.99,207.51 L225.03,205.44 L226.10,203.39 L227.20,201.35 L228.33,199.34 L229.50,197.35 L230.69,195.38 L231.92,193.44 L233.17,191.52 L234.47,189.63 L235.79,187.77 L237.16,185.94 L238.55,184.14 L239.99,182.38 L241.46,180.66 L242.97,178.97 L244.52,177.33 L246.10,175.72 L247.73,174.16 L249.39,172.65 L251.10,171.18 L252.84,169.76 L254.63,168.38 L256.44,167.04 L258.30,165.74 L260.18,164.49 L262.09,163.27 L264.03,162.09 L266.00,160.95 L267.99,159.84 L270.01,158.76 L272.04,157.72 L274.10,156.71 L276.17,155.73 L278.26,154.78 L280.36,153.85 L282.48,152.95 L284.60,152.08 L286.74,151.23 L288.88,150.40 L291.03,149.60 L293.18,148.81 L295.34,148.05 L297.51,147.30 L299.68,146.58 L301.86,145.87 L304.04,145.19 L306.23,144.52 L308.42,143.87 L310.62,143.24 L312.83,142.63 L315.03,142.03 L317.24,141.45 L319.46,140.89 L321.68,140.34 L323.90,139.80 L326.13,139.28 L328.36,138.78 L330.60,138.28 L332.83,137.81 L335.08,137.34 L337.32,136.89 L339.56,136.44 L341.81,136.01 L344.06,135.59 L346.32,135.19 L348.57,134.79 L350.83,134.40 L353.09,134.02 L355.35,133.65 L357.61,133.28 L359.87,132.93 L362.14,132.58 L364.40,132.24 L366.66,131.91 L368.93,131.58 L371.20,131.26 L373.46,130.94 L375.73,130.63 L378.00,130.33 L380.26,130.03 L382.53,129.74 L384.80,129.45 L387.07,129.17 L389.34,128.89 L391.61,128.62 L393.88,128.36 L396.15,128.10 L398.42,127.84 L400.69,127.59 L402.96,127.35 L405.23,127.11 L407.50,126.87 L409.78,126.64 L412.05,126.42 L414.32,126.20 L416.60,125.98 L418.87,125.77 L421.15,125.57 L423.42,125.36 L425.70,125.17 L427.97,124.97 L430.25,124.78 L432.52,124.60 L434.80,124.42 L437.08,124.24 L439.35,124.07 L441.63,123.90 L443.91,123.74 L446.19,123.58 L448.47,123.42 L450.75,123.27 L453.03,123.12 L455.31,122.97 L457.59,122.83 L459.87,122.69 L462.15,122.56 L464.43,122.42 L466.71,122.30 L468.99,122.17 L471.27,122.05 L473.56,121.93 L475.84,121.81 L478.12,121.70 L480.41,121.59 L482.69,121.48 L484.97,121.38 L487.26,121.27 L489.54,121.17 L491.83,121.08 L494.11,120.98 L496.40,120.89 L498.68,120.80 L500.97,120.71 L503.25,120.63 L505.54,120.55 L507.83,120.46 L510.12,120.39 L512.40,120.31 L514.69,120.23 L516.98,120.16 L519.27,120.09 L521.55,120.02 L523.84,119.95 L526.13,119.89 L528.42,119.82 L530.71,119.76 L533.00,119.70" stroke="#bf80ff" stroke-width="2.2"/>
<path d="M198.59,131.15 L199.89,129.37 L201.12,127.55 L202.29,125.67 L203.38,123.74 L204.40,121.77 L205.37,119.74 L206.26,117.67 L207.11,115.56 L207.99,113.48 L209.01,111.53 L210.26,109.79 L211.82,108.32 L213.58,107.04 L215.43,105.85 L217.30,104.70 L219.20,103.59 L221.13,102.52 L223.08,101.49 L225.05,100.50 L227.05,99.55 L229.07,98.63 L231.10,97.76 L233.15,96.92 L235.22,96.12 L237.31,95.35 L239.41,94.62 L241.52,93.93 L243.65,93.27 L245.78,92.64 L247.92,92.05 L250.08,91.50 L252.23,90.97 L254.40,90.49 L256.57,90.03 L258.74,89.60 L260.92,89.20 L263.10,88.84 L265.28,88.49 L267.47,88.18 L269.66,87.89 L271.85,87.62 L274.05,87.37 L276.25,87.15 L278.45,86.94 L280.65,86.75 L282.85,86.58 L285.06,86.42 L287.27,86.28 L289.48,86.15 L291.69,86.03 L293.90,85.92 L296.11,85.82 L298.33,85.73 L300.54,85.64 L302.75,85.56 L304.96,85.49 L307.18,85.41 L309.39,85.35 L311.60,85.28 L313.82,85.23 L316.03,85.17 L318.25,85.12 L320.46,85.07 L322.68,85.02 L324.89,84.98 L327.10,84.94 L329.32,84.90 L331.53,84.86 L333.75,84.83 L335.96,84.79 L338.17,84.76 L340.39,84.72 L342.60,84.69 L344.82,84.66 L347.03,84.63 L349.25,84.60 L351.46,84.57 L353.67,84.54 L355.89,84.51 L358.10,84.49 L360.32,84.46 L362.53,84.43 L364.74,84.41 L366.96,84.39 L369.17,84.37 L371.39,84.34 L373.60,84.32 L375.81,84.30 L378.03,84.29 L380.24,84.27 L382.46,84.25 L384.67,84.23 L386.88,84.22 L389.10,84.20 L391.31,84.19 L393.53,84.18 L395.74,84.16 L397.95,84.15 L400.17,84.14 L402.38,84.13 L404.59,84.12 L406.81,84.11 L409.02,84.10 L411.24,84.10 L413.45,84.09 L415.66,84.08 L417.88,84.08 L420.09,84.07 L422.30,84.07 L424.52,84.07 L426.73,84.06 L428.95,84.06 L431.16,84.06 L433.37,84.06 L435.59,84.06 L437.80,84.06 L440.01,84.06 L442.23,84.06 L444.44,84.06 L446.66,84.07 L448.87,84.07 L451.08,84.07 L453.30,84.08 L455.51,84.08 L457.72,84.09 L459.94,84.09 L462.15,84.10 L464.37,84.11 L466.58,84.12 L468.79,84.12 L471.01,84.13 L473.22,84.14 L475.44,84.15 L477.65,84.16 L479.86,84.17 L482.08,84.18 L484.29,84.19 L486.50,84.21 L488.72,84.22 L490.93,84.23 L493.15,84.25 L495.36,84.26 L497.57,84.27 L499.79,84.29 L502.00,84.30 L504.22,84.32 L506.43,84.33 L508.64,84.35 L510.86,84.37 L513.07,84.38 L515.29,84.40 L517.50,84.42 L519.71,84.44 L521.93,84.45 L524.14,84.47 L526.36,84.49 L528.57,84.51 L530.79,84.53 L533.00,84.55" stroke="#bf80ff" stroke-width="2.2" stroke-dasharray="6.9 10.8"/>
<path d="M196.99,327.39 L197.33,324.56 L197.67,321.72 L198.00,318.87 L198.32,316.02 L198.64,313.16 L198.95,310.30 L199.25,307.43 L199.56,304.57 L199.87,301.69 L200.17,298.82 L200.48,295.94 L200.80,293.07 L201.12,290.19 L201.46,287.31 L201.80,284.43 L202.15,281.55 L202.52,278.68 L202.90,275.80 L203.30,272.93 L203.71,270.06 L204.15,267.20 L204.61,264.33 L205.09,261.48 L205.60,258.62 L206.13,255.78 L206.69,252.94 L207.28,250.10 L207.90,247.27 L208.56,244.45 L209.25,241.64 L209.97,238.84 L210.73,236.05 L211.54,233.26 L212.38,230.49 L213.27,227.72 L214.20,224.97 L215.18,222.23 L216.20,219.50 L217.28,216.79 L218.40,214.09 L219.58,211.42 L220.80,208.77 L222.08,206.15 L223.42,203.57 L224.81,201.01 L226.26,198.50 L227.76,196.03 L229.33,193.61 L230.95,191.24 L232.64,188.92 L234.39,186.66 L236.20,184.46 L238.07,182.32 L240.02,180.26 L242.02,178.26 L244.10,176.34 L246.24,174.50 L248.45,172.73 L250.72,171.04 L253.05,169.41 L255.43,167.86 L257.86,166.37 L260.34,164.94 L262.87,163.57 L265.43,162.26 L268.03,161.00 L270.67,159.79 L273.33,158.63 L276.02,157.52 L278.74,156.45 L281.47,155.42 L284.22,154.43 L286.99,153.47 L289.76,152.55 L292.54,151.65 L295.32,150.79 L298.10,149.95 L300.90,149.14 L303.69,148.35 L306.49,147.59 L309.30,146.86 L312.10,146.15 L314.92,145.46 L317.73,144.80 L320.55,144.16 L323.37,143.54 L326.20,142.94 L329.03,142.37 L331.86,141.81 L334.70,141.27 L337.54,140.75 L340.38,140.25 L343.22,139.77 L346.07,139.30 L348.92,138.85 L351.77,138.41 L354.63,137.98 L357.48,137.58 L360.34,137.18 L363.20,136.80 L366.06,136.42 L368.93,136.06 L371.79,135.71 L374.66,135.37 L377.53,135.04 L380.40,134.72 L383.27,134.41 L386.14,134.10 L389.02,133.80 L391.89,133.50 L394.76,133.21 L397.64,132.93 L400.51,132.64 L403.39,132.36 L406.26,132.09 L409.14,131.81 L412.02,131.54 L414.89,131.27 L417.77,131.00 L420.64,130.73 L423.52,130.46 L426.39,130.19 L429.27,129.92 L432.15,129.66 L435.02,129.40 L437.90,129.13 L440.77,128.88 L443.65,128.62 L446.53,128.37 L449.40,128.12 L452.28,127.87 L455.16,127.63 L458.03,127.39 L460.91,127.15 L463.79,126.92 L466.67,126.69 L469.54,126.47 L472.42,126.25 L475.30,126.03 L478.18,125.82 L481.06,125.61 L483.94,125.41 L486.82,125.22 L489.70,125.03 L492.59,124.84 L495.47,124.67 L498.35,124.49 L501.24,124.33 L504.12,124.17 L507.00,124.01 L509.89,123.87 L512.78,123.73 L515.66,123.59 L518.55,123.47 L521.44,123.35 L524.33,123.24 L527.22,123.14 L530.11,123.04 L533.00,122.95" stroke="#bf80ff" stroke-width="2.2" stroke-dasharray="6.9 10.8"/>
</g>
<g clip-path="url(#cb)" fill="none" stroke-linejoin="round">
<path d="M228.79,363.21 L230.49,364.19 L232.21,365.07 L233.96,365.84 L235.74,366.52 L237.54,367.10 L239.37,367.61 L241.21,368.05 L243.07,368.42 L244.94,368.74 L246.83,369.00 L248.73,369.21 L250.63,369.40 L252.54,369.55 L254.45,369.68 L256.37,369.79 L258.29,369.89 L260.20,369.97 L262.12,370.04 L264.04,370.09 L265.96,370.14 L267.88,370.17 L269.80,370.19 L271.73,370.21 L273.65,370.22 L275.57,370.22 L277.50,370.21 L279.42,370.20 L281.35,370.18 L283.27,370.17 L285.20,370.15 L287.12,370.12 L289.05,370.10 L290.97,370.08 L292.90,370.06 L294.82,370.04 L296.75,370.02 L298.67,370.00 L300.59,369.98 L302.52,369.97 L304.44,369.95 L306.37,369.94 L308.29,369.93 L310.21,369.91 L312.14,369.90 L314.06,369.89 L315.98,369.88 L317.91,369.87 L319.83,369.86 L321.75,369.86 L323.67,369.85 L325.60,369.84 L327.52,369.84 L329.44,369.84 L331.36,369.83 L333.28,369.83 L335.21,369.83 L337.13,369.82 L339.05,369.82 L340.97,369.82 L342.89,369.82 L344.81,369.82 L346.73,369.83 L348.65,369.83 L350.58,369.83 L352.50,369.83 L354.42,369.84 L356.34,369.84 L358.26,369.85 L360.18,369.85 L362.10,369.86 L364.02,369.86 L365.94,369.87 L367.86,369.88 L369.78,369.88 L371.70,369.89 L373.62,369.90 L375.54,369.91 L377.46,369.92 L379.38,369.93 L381.30,369.94 L383.22,369.95 L385.14,369.96 L387.06,369.97 L388.98,369.98 L390.90,369.99 L392.82,370.00 L394.74,370.01 L396.66,370.03 L398.57,370.04 L400.49,370.05 L402.41,370.06 L404.33,370.08 L406.25,370.09 L408.17,370.10 L410.09,370.11 L412.01,370.13 L413.93,370.14 L415.85,370.15 L417.77,370.17 L419.69,370.18 L421.60,370.19 L423.52,370.21 L425.44,370.22 L427.36,370.23 L429.28,370.25 L431.20,370.26 L433.12,370.27 L435.04,370.29 L436.96,370.30 L438.88,370.31 L440.80,370.32 L442.72,370.34 L444.64,370.35 L446.56,370.36 L448.47,370.37 L450.39,370.39 L452.31,370.40 L454.23,370.41 L456.15,370.42 L458.07,370.43 L459.99,370.44 L461.91,370.45 L463.83,370.46 L465.75,370.47 L467.67,370.48 L469.59,370.49 L471.51,370.50 L473.43,370.51 L475.35,370.51 L477.27,370.52 L479.19,370.53 L481.11,370.54 L483.03,370.54 L484.95,370.55 L486.87,370.55 L488.79,370.56 L490.72,370.56 L492.64,370.57 L494.56,370.57 L496.48,370.57 L498.40,370.57 L500.32,370.58 L502.24,370.58 L504.16,370.58 L506.09,370.58 L508.01,370.58 L509.93,370.57 L511.85,370.57 L513.77,370.57 L515.69,370.57 L517.62,370.56 L519.54,370.56 L521.46,370.55 L523.38,370.54 L525.31,370.54 L527.23,370.53 L529.15,370.52 L531.08,370.51 L533.00,370.50" stroke="#ff0000" stroke-width="1.4" stroke-dasharray="13.7 4.7 2.6 4.9"/>
<path d="M229.70,384.11 L231.39,383.18 L233.09,382.25 L234.80,381.34 L236.52,380.45 L238.25,379.58 L239.98,378.74 L241.73,377.92 L243.49,377.14 L245.26,376.40 L247.05,375.71 L248.84,375.06 L250.66,374.47 L252.49,373.93 L254.33,373.46 L256.19,373.04 L258.06,372.67 L259.95,372.35 L261.84,372.06 L263.74,371.81 L265.65,371.58 L267.56,371.37 L269.48,371.18 L271.40,370.99 L273.32,370.81 L275.24,370.64 L277.16,370.48 L279.08,370.31 L281.00,370.16 L282.93,370.01 L284.85,369.86 L286.77,369.72 L288.70,369.58 L290.62,369.44 L292.54,369.31 L294.47,369.18 L296.39,369.06 L298.31,368.94 L300.23,368.82 L302.16,368.70 L304.08,368.59 L306.00,368.48 L307.92,368.38 L309.84,368.28 L311.77,368.18 L313.69,368.08 L315.61,367.99 L317.53,367.90 L319.46,367.81 L321.38,367.73 L323.30,367.65 L325.22,367.57 L327.14,367.49 L329.07,367.41 L330.99,367.34 L332.91,367.27 L334.83,367.21 L336.75,367.14 L338.68,367.08 L340.60,367.02 L342.52,366.96 L344.44,366.90 L346.37,366.84 L348.29,366.79 L350.21,366.74 L352.13,366.69 L354.05,366.64 L355.98,366.60 L357.90,366.55 L359.82,366.51 L361.74,366.47 L363.67,366.42 L365.59,366.38 L367.51,366.35 L369.44,366.31 L371.36,366.27 L373.28,366.24 L375.20,366.20 L377.13,366.17 L379.05,366.14 L380.97,366.11 L382.90,366.08 L384.82,366.05 L386.74,366.02 L388.67,365.99 L390.59,365.96 L392.52,365.93 L394.44,365.91 L396.36,365.88 L398.29,365.86 L400.21,365.83 L402.14,365.81 L404.06,365.78 L405.98,365.76 L407.91,365.74 L409.83,365.72 L411.76,365.70 L413.68,365.67 L415.61,365.65 L417.53,365.63 L419.46,365.62 L421.38,365.60 L423.31,365.58 L425.23,365.56 L427.16,365.54 L429.08,365.53 L431.00,365.51 L432.93,365.49 L434.85,365.48 L436.78,365.46 L438.70,365.45 L440.63,365.43 L442.55,365.42 L444.48,365.40 L446.40,365.39 L448.33,365.37 L450.26,365.36 L452.18,365.35 L454.11,365.33 L456.03,365.32 L457.96,365.31 L459.88,365.29 L461.81,365.28 L463.73,365.27 L465.66,365.26 L467.58,365.24 L469.51,365.23 L471.43,365.22 L473.36,365.21 L475.28,365.20 L477.20,365.19 L479.13,365.17 L481.05,365.16 L482.98,365.15 L484.90,365.14 L486.83,365.13 L488.75,365.11 L490.68,365.10 L492.60,365.09 L494.53,365.08 L496.45,365.07 L498.38,365.05 L500.30,365.04 L502.22,365.03 L504.15,365.02 L506.07,365.00 L508.00,364.99 L509.92,364.98 L511.84,364.97 L513.77,364.95 L515.69,364.94 L517.61,364.92 L519.54,364.91 L521.46,364.89 L523.38,364.88 L525.31,364.86 L527.23,364.85 L529.15,364.83 L531.08,364.82 L533.00,364.80" stroke="#ff0000" stroke-width="1.4" stroke-dasharray="2.2 3.7"/>
<path d="M214.00,364.40 L215.52,365.85 L217.15,367.03 L218.89,367.98 L220.71,368.73 L222.60,369.31 L224.53,369.77 L226.50,370.14 L228.48,370.45 L230.48,370.70 L232.49,370.91 L234.51,371.06 L236.54,371.17 L238.58,371.24 L240.62,371.27 L242.66,371.27 L244.71,371.24 L246.75,371.19 L248.78,371.11 L250.81,371.02 L252.83,370.91 L254.84,370.79 L256.84,370.65 L258.84,370.49 L260.83,370.30 L262.82,370.08 L264.81,369.82 L266.80,369.52 L268.79,369.21 L270.79,368.89 L272.78,368.59 L274.78,368.31 L276.79,368.07 L278.80,367.88 L280.81,367.76 L282.82,367.67 L284.84,367.63 L286.86,367.61 L288.88,367.61 L290.89,367.61 L292.91,367.63 L294.93,367.65 L296.95,367.67 L298.97,367.70 L300.99,367.74 L303.00,367.78 L305.02,367.82 L307.04,367.87 L309.06,367.93 L311.07,367.99 L313.09,368.05 L315.11,368.11 L317.12,368.18 L319.14,368.26 L321.16,368.33 L323.17,368.41 L325.19,368.49 L327.20,368.58 L329.22,368.66 L331.24,368.75 L333.25,368.84 L335.27,368.93 L337.28,369.02 L339.30,369.11 L341.31,369.21 L343.33,369.30 L345.35,369.39 L347.36,369.49 L349.38,369.58 L351.39,369.67 L353.41,369.77 L355.42,369.86 L357.44,369.95 L359.46,370.03 L361.47,370.12 L363.49,370.21 L365.50,370.29 L367.52,370.37 L369.53,370.45 L371.55,370.52 L373.57,370.59 L375.58,370.66 L377.60,370.73 L379.62,370.79 L381.63,370.85 L383.65,370.90 L385.67,370.95 L387.68,370.99 L389.70,371.04 L391.72,371.07 L393.74,371.11 L395.75,371.14 L397.77,371.17 L399.79,371.19 L401.81,371.22 L403.82,371.24 L405.84,371.25 L407.86,371.27 L409.88,371.28 L411.90,371.29 L413.91,371.29 L415.93,371.30 L417.95,371.30 L419.97,371.30 L421.99,371.30 L424.01,371.30 L426.03,371.29 L428.04,371.28 L430.06,371.28 L432.08,371.27 L434.10,371.26 L436.12,371.25 L438.14,371.23 L440.16,371.22 L442.18,371.20 L444.20,371.19 L446.21,371.17 L448.23,371.16 L450.25,371.14 L452.27,371.12 L454.29,371.11 L456.31,371.09 L458.33,371.07 L460.35,371.06 L462.37,371.04 L464.39,371.02 L466.40,371.01 L468.42,370.99 L470.44,370.98 L472.46,370.97 L474.48,370.95 L476.50,370.94 L478.52,370.93 L480.54,370.92 L482.56,370.92 L484.57,370.91 L486.59,370.91 L488.61,370.90 L490.63,370.90 L492.65,370.90 L494.67,370.91 L496.68,370.91 L498.70,370.92 L500.72,370.93 L502.74,370.94 L504.76,370.96 L506.78,370.98 L508.79,371.00 L510.81,371.02 L512.83,371.05 L514.85,371.08 L516.86,371.11 L518.88,371.14 L520.90,371.18 L522.92,371.23 L524.93,371.27 L526.95,371.33 L528.97,371.38 L530.98,371.44 L533.00,371.50" stroke="#0000ff" stroke-width="1.4" stroke-dasharray="13.7 4.7 2.6 4.9"/>
<path d="M214.00,394.00 L215.13,392.30 L216.31,390.60 L217.55,388.93 L218.85,387.30 L220.20,385.72 L221.63,384.20 L223.11,382.76 L224.67,381.41 L226.29,380.15 L227.98,379.01 L229.74,378.00 L231.56,377.09 L233.44,376.30 L235.37,375.59 L237.34,374.97 L239.34,374.42 L241.37,373.93 L243.41,373.50 L245.46,373.10 L247.52,372.74 L249.57,372.42 L251.63,372.15 L253.68,371.95 L255.74,371.82 L257.79,371.77 L259.83,371.82 L261.87,371.97 L263.90,372.23 L265.93,372.61 L267.94,373.09 L269.95,373.65 L271.96,374.24 L273.96,374.82 L275.97,375.35 L277.97,375.80 L279.98,376.14 L282.00,376.32 L284.02,376.34 L286.06,376.21 L288.09,375.99 L290.13,375.73 L292.17,375.46 L294.21,375.19 L296.26,374.93 L298.30,374.67 L300.34,374.40 L302.38,374.15 L304.43,373.89 L306.47,373.63 L308.52,373.38 L310.56,373.13 L312.61,372.88 L314.66,372.64 L316.71,372.40 L318.75,372.16 L320.80,371.92 L322.85,371.69 L324.90,371.46 L326.95,371.23 L329.00,371.01 L331.05,370.79 L333.10,370.58 L335.16,370.36 L337.21,370.16 L339.26,369.95 L341.31,369.75 L343.37,369.56 L345.42,369.36 L347.48,369.18 L349.53,369.00 L351.59,368.82 L353.64,368.64 L355.70,368.48 L357.75,368.31 L359.81,368.16 L361.87,368.00 L363.92,367.86 L365.98,367.72 L368.04,367.58 L370.10,367.45 L372.16,367.32 L374.21,367.21 L376.27,367.09 L378.33,366.98 L380.39,366.88 L382.45,366.79 L384.51,366.69 L386.57,366.61 L388.63,366.52 L390.69,366.45 L392.75,366.37 L394.81,366.30 L396.87,366.24 L398.93,366.18 L401.00,366.12 L403.06,366.07 L405.12,366.02 L407.18,365.98 L409.24,365.93 L411.30,365.90 L413.37,365.86 L415.43,365.83 L417.49,365.80 L419.55,365.77 L421.62,365.75 L423.68,365.73 L425.74,365.71 L427.80,365.70 L429.87,365.68 L431.93,365.67 L433.99,365.66 L436.06,365.65 L438.12,365.65 L440.18,365.64 L442.25,365.64 L444.31,365.64 L446.37,365.64 L448.44,365.64 L450.50,365.64 L452.57,365.64 L454.63,365.65 L456.69,365.65 L458.76,365.65 L460.82,365.66 L462.88,365.66 L464.95,365.67 L467.01,365.67 L469.07,365.67 L471.14,365.68 L473.20,365.68 L475.27,365.68 L477.33,365.69 L479.39,365.69 L481.46,365.69 L483.52,365.69 L485.58,365.69 L487.64,365.68 L489.71,365.68 L491.77,365.67 L493.83,365.66 L495.90,365.65 L497.96,365.64 L500.02,365.63 L502.08,365.61 L504.15,365.59 L506.21,365.57 L508.27,365.54 L510.33,365.52 L512.39,365.49 L514.45,365.45 L516.52,365.42 L518.58,365.38 L520.64,365.34 L522.70,365.29 L524.76,365.24 L526.82,365.18 L528.88,365.13 L530.94,365.06 L533.00,365.00" stroke="#0000ff" stroke-width="1.4" stroke-dasharray="2.2 3.7"/>
<path d="M213.99,386.39 L215.81,385.34 L217.63,384.34 L219.47,383.42 L221.33,382.55 L223.19,381.74 L225.07,380.99 L226.96,380.30 L228.85,379.66 L230.76,379.07 L232.68,378.53 L234.61,378.03 L236.55,377.58 L238.50,377.18 L240.45,376.81 L242.41,376.49 L244.38,376.19 L246.36,375.94 L248.34,375.71 L250.33,375.52 L252.33,375.35 L254.33,375.21 L256.33,375.10 L258.34,375.00 L260.35,374.93 L262.37,374.87 L264.39,374.83 L266.41,374.80 L268.44,374.79 L270.46,374.78 L272.49,374.78 L274.52,374.79 L276.54,374.79 L278.57,374.80 L280.60,374.81 L282.63,374.82 L284.65,374.83 L286.68,374.84 L288.70,374.85 L290.73,374.85 L292.76,374.86 L294.78,374.87 L296.80,374.88 L298.83,374.88 L300.85,374.89 L302.88,374.90 L304.90,374.90 L306.92,374.91 L308.95,374.92 L310.97,374.92 L312.99,374.93 L315.01,374.94 L317.03,374.94 L319.06,374.95 L321.08,374.95 L323.10,374.96 L325.12,374.96 L327.14,374.97 L329.16,374.97 L331.18,374.98 L333.20,374.98 L335.22,374.99 L337.24,374.99 L339.26,374.99 L341.28,375.00 L343.29,375.00 L345.31,375.00 L347.33,375.01 L349.35,375.01 L351.37,375.01 L353.39,375.02 L355.40,375.02 L357.42,375.02 L359.44,375.02 L361.46,375.03 L363.47,375.03 L365.49,375.03 L367.51,375.03 L369.52,375.04 L371.54,375.04 L373.56,375.04 L375.57,375.04 L377.59,375.04 L379.61,375.04 L381.62,375.05 L383.64,375.05 L385.65,375.05 L387.67,375.05 L389.69,375.05 L391.70,375.05 L393.72,375.05 L395.73,375.05 L397.75,375.05 L399.76,375.05 L401.78,375.05 L403.80,375.05 L405.81,375.05 L407.83,375.05 L409.84,375.05 L411.86,375.05 L413.87,375.05 L415.89,375.05 L417.90,375.05 L419.92,375.05 L421.94,375.05 L423.95,375.05 L425.97,375.05 L427.98,375.05 L430.00,375.05 L432.01,375.05 L434.03,375.05 L436.05,375.05 L438.06,375.05 L440.08,375.05 L442.09,375.05 L444.11,375.05 L446.13,375.05 L448.14,375.04 L450.16,375.04 L452.18,375.04 L454.19,375.04 L456.21,375.04 L458.23,375.04 L460.25,375.04 L462.26,375.04 L464.28,375.04 L466.30,375.03 L468.32,375.03 L470.33,375.03 L472.35,375.03 L474.37,375.03 L476.39,375.03 L478.41,375.03 L480.43,375.03 L482.44,375.03 L484.46,375.02 L486.48,375.02 L488.50,375.02 L490.52,375.02 L492.54,375.02 L494.56,375.02 L496.58,375.02 L498.60,375.02 L500.63,375.01 L502.65,375.01 L504.67,375.01 L506.69,375.01 L508.71,375.01 L510.73,375.01 L512.76,375.01 L514.78,375.01 L516.80,375.01 L518.83,375.00 L520.85,375.00 L522.87,375.00 L524.90,375.00 L526.92,375.00 L528.95,375.00 L530.97,375.00 L533.00,375.00" stroke="#ffa500" stroke-width="1.4" stroke-dasharray="13.7 4.7 2.6 4.9"/>
<path d="M213.98,375.00 L215.47,373.44 L216.99,371.96 L218.55,370.57 L220.15,369.26 L221.79,368.03 L223.45,366.87 L225.15,365.79 L226.88,364.78 L228.64,363.84 L230.43,362.96 L232.24,362.15 L234.08,361.39 L235.95,360.69 L237.83,360.05 L239.74,359.46 L241.66,358.92 L243.61,358.42 L245.57,357.97 L247.55,357.56 L249.54,357.19 L251.54,356.86 L253.56,356.56 L255.58,356.29 L257.62,356.05 L259.66,355.83 L261.71,355.63 L263.76,355.46 L265.81,355.30 L267.87,355.16 L269.92,355.03 L271.98,354.91 L274.03,354.80 L276.09,354.70 L278.14,354.60 L280.19,354.52 L282.24,354.44 L284.29,354.37 L286.34,354.31 L288.38,354.25 L290.43,354.21 L292.47,354.17 L294.52,354.13 L296.56,354.10 L298.61,354.08 L300.65,354.07 L302.69,354.06 L304.73,354.05 L306.77,354.05 L308.81,354.06 L310.85,354.07 L312.89,354.08 L314.93,354.10 L316.97,354.12 L319.01,354.15 L321.04,354.18 L323.08,354.21 L325.12,354.25 L327.15,354.28 L329.19,354.32 L331.23,354.37 L333.26,354.41 L335.30,354.46 L337.33,354.51 L339.37,354.55 L341.40,354.60 L343.44,354.65 L345.48,354.71 L347.51,354.76 L349.55,354.81 L351.58,354.86 L353.62,354.91 L355.65,354.96 L357.69,355.01 L359.73,355.06 L361.76,355.11 L363.80,355.15 L365.84,355.20 L367.87,355.25 L369.91,355.30 L371.95,355.35 L373.99,355.39 L376.02,355.44 L378.06,355.49 L380.10,355.53 L382.13,355.58 L384.17,355.63 L386.21,355.67 L388.25,355.72 L390.29,355.76 L392.32,355.81 L394.36,355.86 L396.40,355.90 L398.44,355.95 L400.48,355.99 L402.52,356.04 L404.55,356.09 L406.59,356.13 L408.63,356.18 L410.67,356.22 L412.71,356.27 L414.75,356.32 L416.79,356.36 L418.83,356.41 L420.86,356.46 L422.90,356.50 L424.94,356.55 L426.98,356.60 L429.02,356.64 L431.06,356.69 L433.10,356.74 L435.14,356.79 L437.18,356.83 L439.22,356.88 L441.26,356.93 L443.29,356.98 L445.33,357.03 L447.37,357.08 L449.41,357.13 L451.45,357.18 L453.49,357.23 L455.53,357.28 L457.57,357.34 L459.61,357.39 L461.65,357.44 L463.69,357.49 L465.73,357.55 L467.77,357.60 L469.81,357.66 L471.84,357.71 L473.88,357.77 L475.92,357.82 L477.96,357.88 L480.00,357.94 L482.04,358.00 L484.08,358.06 L486.12,358.12 L488.16,358.18 L490.20,358.24 L492.24,358.30 L494.27,358.36 L496.31,358.42 L498.35,358.49 L500.39,358.55 L502.43,358.62 L504.47,358.68 L506.51,358.75 L508.54,358.82 L510.58,358.89 L512.62,358.96 L514.66,359.03 L516.70,359.10 L518.74,359.17 L520.77,359.24 L522.81,359.32 L524.85,359.39 L526.89,359.47 L528.93,359.54 L530.96,359.62 L533.00,359.70" stroke="#ffa500" stroke-width="1.4" stroke-dasharray="2.2 3.7"/>
<path d="M214.00,348.29 L216.02,347.95 L218.04,347.69 L220.05,347.49 L222.06,347.36 L224.06,347.29 L226.06,347.27 L228.06,347.31 L230.05,347.40 L232.04,347.53 L234.03,347.71 L236.01,347.93 L237.99,348.19 L239.97,348.48 L241.95,348.80 L243.93,349.14 L245.90,349.51 L247.87,349.90 L249.85,350.30 L251.82,350.71 L253.79,351.14 L255.77,351.57 L257.74,352.00 L259.72,352.43 L261.69,352.85 L263.67,353.27 L265.65,353.68 L267.63,354.07 L269.62,354.44 L271.60,354.81 L273.59,355.16 L275.58,355.49 L277.57,355.82 L279.56,356.13 L281.55,356.44 L283.55,356.73 L285.54,357.02 L287.54,357.30 L289.54,357.56 L291.53,357.83 L293.53,358.08 L295.53,358.33 L297.53,358.57 L299.53,358.81 L301.54,359.04 L303.54,359.27 L305.54,359.50 L307.54,359.72 L309.55,359.93 L311.55,360.15 L313.55,360.36 L315.56,360.56 L317.56,360.76 L319.57,360.96 L321.57,361.15 L323.58,361.34 L325.58,361.53 L327.59,361.71 L329.60,361.89 L331.60,362.06 L333.61,362.23 L335.62,362.40 L337.63,362.56 L339.63,362.73 L341.64,362.88 L343.65,363.04 L345.66,363.19 L347.67,363.34 L349.68,363.48 L351.69,363.62 L353.70,363.76 L355.71,363.90 L357.72,364.03 L359.73,364.16 L361.74,364.28 L363.75,364.41 L365.77,364.53 L367.78,364.65 L369.79,364.76 L371.80,364.87 L373.81,364.98 L375.83,365.09 L377.84,365.19 L379.85,365.30 L381.87,365.40 L383.88,365.49 L385.89,365.59 L387.91,365.68 L389.92,365.77 L391.93,365.86 L393.95,365.94 L395.96,366.03 L397.98,366.11 L399.99,366.19 L402.01,366.26 L404.02,366.34 L406.04,366.41 L408.05,366.48 L410.07,366.55 L412.08,366.62 L414.10,366.69 L416.11,366.75 L418.13,366.81 L420.15,366.87 L422.16,366.93 L424.18,366.99 L426.19,367.05 L428.21,367.10 L430.23,367.15 L432.24,367.21 L434.26,367.26 L436.27,367.30 L438.29,367.35 L440.31,367.40 L442.32,367.44 L444.34,367.49 L446.36,367.53 L448.37,367.57 L450.39,367.62 L452.41,367.66 L454.42,367.70 L456.44,367.73 L458.45,367.77 L460.47,367.81 L462.49,367.85 L464.50,367.88 L466.52,367.92 L468.54,367.95 L470.55,367.98 L472.57,368.02 L474.58,368.05 L476.60,368.08 L478.62,368.11 L480.63,368.15 L482.65,368.18 L484.66,368.21 L486.68,368.24 L488.69,368.27 L490.71,368.30 L492.73,368.33 L494.74,368.36 L496.76,368.39 L498.77,368.42 L500.78,368.46 L502.80,368.49 L504.81,368.52 L506.83,368.55 L508.84,368.58 L510.86,368.61 L512.87,368.65 L514.88,368.68 L516.90,368.71 L518.91,368.75 L520.92,368.78 L522.94,368.81 L524.95,368.85 L526.96,368.89 L528.98,368.92 L530.99,368.96 L533.00,369.00" stroke="#bf80ff" stroke-width="1.4" stroke-dasharray="13.7 4.7 2.6 4.9"/>
<path d="M214.81,410.63 L215.90,408.83 L217.03,407.04 L218.18,405.26 L219.36,403.49 L220.57,401.74 L221.81,400.02 L223.08,398.31 L224.39,396.64 L225.73,394.99 L227.10,393.38 L228.50,391.80 L229.95,390.26 L231.43,388.76 L232.94,387.31 L234.50,385.91 L236.10,384.56 L237.73,383.26 L239.41,382.02 L241.12,380.83 L242.87,379.70 L244.66,378.61 L246.47,377.57 L248.32,376.59 L250.19,375.64 L252.09,374.75 L254.01,373.89 L255.95,373.08 L257.91,372.31 L259.89,371.57 L261.89,370.87 L263.90,370.21 L265.92,369.59 L267.95,368.99 L269.99,368.43 L272.03,367.90 L274.08,367.39 L276.13,366.92 L278.19,366.47 L280.25,366.04 L282.32,365.65 L284.39,365.27 L286.46,364.92 L288.54,364.60 L290.63,364.29 L292.71,364.00 L294.80,363.74 L296.90,363.49 L298.99,363.26 L301.09,363.05 L303.19,362.85 L305.29,362.67 L307.40,362.50 L309.50,362.34 L311.61,362.20 L313.72,362.07 L315.83,361.95 L317.94,361.84 L320.06,361.73 L322.17,361.64 L324.28,361.55 L326.40,361.46 L328.51,361.38 L330.63,361.31 L332.74,361.24 L334.85,361.17 L336.97,361.10 L339.08,361.04 L341.19,360.97 L343.30,360.92 L345.41,360.86 L347.52,360.81 L349.63,360.76 L351.74,360.71 L353.85,360.67 L355.96,360.63 L358.07,360.59 L360.18,360.55 L362.29,360.52 L364.40,360.49 L366.51,360.46 L368.62,360.43 L370.73,360.40 L372.83,360.38 L374.94,360.36 L377.05,360.34 L379.16,360.33 L381.26,360.31 L383.37,360.30 L385.48,360.29 L387.58,360.28 L389.69,360.27 L391.80,360.27 L393.90,360.26 L396.01,360.26 L398.11,360.26 L400.22,360.26 L402.33,360.27 L404.43,360.27 L406.54,360.28 L408.64,360.29 L410.75,360.29 L412.85,360.30 L414.96,360.32 L417.06,360.33 L419.17,360.34 L421.27,360.36 L423.38,360.37 L425.48,360.39 L427.59,360.41 L429.69,360.43 L431.80,360.45 L433.90,360.47 L436.01,360.49 L438.11,360.52 L440.22,360.54 L442.32,360.56 L444.43,360.59 L446.54,360.61 L448.64,360.64 L450.75,360.67 L452.85,360.69 L454.96,360.72 L457.06,360.75 L459.17,360.77 L461.27,360.80 L463.38,360.83 L465.49,360.86 L467.59,360.89 L469.70,360.92 L471.81,360.95 L473.91,360.98 L476.02,361.00 L478.13,361.03 L480.23,361.06 L482.34,361.09 L484.45,361.12 L486.56,361.15 L488.67,361.17 L490.77,361.20 L492.88,361.23 L494.99,361.26 L497.10,361.28 L499.21,361.31 L501.32,361.33 L503.43,361.36 L505.54,361.38 L507.65,361.40 L509.76,361.42 L511.87,361.44 L513.98,361.46 L516.09,361.48 L518.21,361.50 L520.32,361.52 L522.43,361.54 L524.54,361.55 L526.66,361.57 L528.77,361.58 L530.89,361.59 L533.00,361.60" stroke="#bf80ff" stroke-width="1.4" stroke-dasharray="2.2 3.7"/>
</g>
<path d="M177.4,48.9 H532.9 V411.6 H177.4 Z M177.4,327.4 H532.9" fill="none" stroke="#1a1a1a" stroke-width="1"/>
<g font-family="Liberation Serif, serif" font-size="19" fill="#000" style="will-change:transform;text-rendering:geometricPrecision">
<text x="166.4" y="53.70" text-anchor="end">1.2</text>
<text x="166.4" y="100.01" text-anchor="end">1</text>
<text x="166.4" y="146.82" text-anchor="end">0.8</text>
<text x="166.4" y="193.62" text-anchor="end">0.6</text>
<text x="166.4" y="241.53" text-anchor="end">0.4</text>
<text x="166.4" y="287.73" text-anchor="end">0.2</text>
<text x="166.4" y="352.75" text-anchor="end">0.05</text>
<text x="166.4" y="373.80" text-anchor="end">0</text>
<text x="166.4" y="394.85" text-anchor="end">0.05</text>
<text x="177.40" y="435.0" text-anchor="middle">0</text>
<text x="212.95" y="435.0" text-anchor="middle">0.1</text>
<text x="248.50" y="435.0" text-anchor="middle">0.2</text>
<text x="284.05" y="435.0" text-anchor="middle">0.3</text>
<text x="319.60" y="435.0" text-anchor="middle">0.4</text>
<text x="355.15" y="435.0" text-anchor="middle">0.5</text>
<text x="390.70" y="435.0" text-anchor="middle">0.6</text>
<text x="425.75" y="435.0" text-anchor="middle">0.7</text>
<text x="461.30" y="435.0" text-anchor="middle">0.8</text>
<text x="496.85" y="435.0" text-anchor="middle">0.9</text>
<text x="532.40" y="435.0" text-anchor="middle">1</text>
<g font-style="italic">
<text x="336.9" y="462.6">r</text><text x="354.2" y="462.6">R</text><text x="365.2" y="466.3" font-size="13.3">h</text>
<path d="M345.4,467.3 L352.6,449.3" stroke="#000" stroke-width="0.75" fill="none"/>
<g transform="translate(128.1,0) rotate(-90)">
<text x="-232.0" y="0">r</text><text x="-224.3" y="-6.8" font-size="14.5">f</text><text x="-205.1" y="0">r</text><text x="-198.2" y="0" font-style="normal">,</text>
<text x="-178.1" y="0">v</text><text x="-170.6" y="-6.8" font-size="14.5">f</text><text x="-151.5" y="0">v</text>
<path d="M-214.2,4.5 L-207.3,-13.9 M-160.7,4.5 L-153.9,-13.9" stroke="#000" stroke-width="1" fill="none"/>
</g>
<g transform="translate(111.4,0) rotate(-90)">
<text x="-387.7" y="0" font-style="normal">Δ</text><text x="-375.5" y="0">x</text><text x="-359.1" y="0">x</text>
<path d="M-367.4,3.7 L-360.8,-14.4" stroke="#000" stroke-width="0.75" fill="none"/>
</g>
</g>
<path d="M120.6,390.4 H131.9" stroke="#000" stroke-width="0.9" fill="none"/>
</g>
<g font-family="Liberation Serif, serif" font-size="12.5" fill="#000" style="will-change:transform;text-rendering:geometricPrecision">
<text x="411.0" y="245.15" font-style="italic" font-size="13.4">k</text>
<path d="M421.2,240.70 H429.8 M421.2,243.30 H429.8" stroke="#000" stroke-width="0.7" fill="none"/>
<text transform="translate(452.35,245.15) scale(1.1,1)" text-anchor="end" font-size="13.4">0.9</text>
<path d="M463.5,240.80 H516.2" stroke="#ff0000" stroke-width="2.2" fill="none"/>
<text x="411.0" y="264.00" font-style="italic" font-size="13.4">k</text>
<path d="M421.2,259.55 H429.8 M421.2,262.15 H429.8" stroke="#000" stroke-width="0.7" fill="none"/>
<text transform="translate(452.35,264.00) scale(1.1,1)" text-anchor="end" font-size="13.4">0.7</text>
<path d="M463.5,259.65 H516.2" stroke="#0000ff" stroke-width="2.2" fill="none"/>
<text x="411.0" y="282.85" font-style="italic" font-size="13.4">k</text>
<path d="M421.2,278.40 H429.8 M421.2,281.00 H429.8" stroke="#000" stroke-width="0.7" fill="none"/>
<text transform="translate(452.35,282.85) scale(1.1,1)" text-anchor="end" font-size="13.4">0.5</text>
<path d="M463.5,278.50 H516.2" stroke="#ffa500" stroke-width="2.2" fill="none"/>
<text x="411.0" y="301.70" font-style="italic" font-size="13.4">k</text>
<path d="M421.2,297.25 H429.8 M421.2,299.85 H429.8" stroke="#000" stroke-width="0.7" fill="none"/>
<text transform="translate(452.35,301.70) scale(1.1,1)" text-anchor="end" font-size="13.4">0.3</text>
<path d="M463.5,297.35 H516.2" stroke="#bf80ff" stroke-width="2.2" fill="none"/>
</g>
</svg>
</body></html>
